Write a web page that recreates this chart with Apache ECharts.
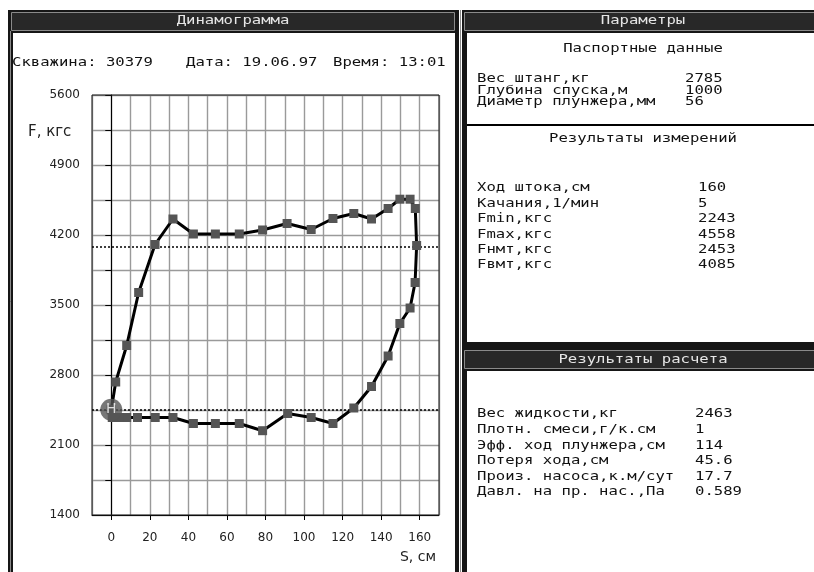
<!DOCTYPE html>
<html>
<head>
<meta charset="utf-8">
<script src="https://cdn.jsdelivr.net/npm/echarts@6/dist/echarts.min.js"></script>
<style>
  html, body { margin: 0; padding: 0; background: #fff; }
  #chart { width: 814px; height: 572px; }
</style>
</head>
<body>
<div id="chart"></div>
<script>
// Dynamogram loop: polished rod travel (cm) against rod load (kgf), one full cycle
const strokeCm = [0, 2.3, 8, 14.2, 22.7, 32, 42.6, 54, 66.4, 78.5, 91.2, 103.7, 115, 125.8, 135, 143.6, 149.7, 155, 157.7, 158.4,
                  157.6, 155, 149.7, 143.6, 135, 125.8, 115, 103.7, 91.5, 78.5, 66.4, 54, 42.6, 32, 22.8, 13.6, 8, 4, 0.5, 0];
const forceKgf = [2453, 2730, 3095, 3625, 4105, 4360, 4210, 4210, 4210, 4250, 4315, 4255, 4365, 4415, 4360, 4465, 4558, 4558, 4465, 4095,
                  3725, 3470, 3315, 2990, 2685, 2470, 2315, 2375, 2415, 2243, 2315, 2315, 2315, 2375, 2375, 2375, 2375, 2375, 2375, 2453];

// Travelling / standing valve load levels
const fNmt = 2453;
const fVmt = 4085;

// Axis ranges and tick labels
const xTickLabels = [0, 20, 40, 60, 80, 100, 120, 140, 160];
const yTickLabels = [1400, 2100, 2800, 3500, 4200, 4900, 5600];

// Header
const wellNo = '30379';
const recDate = '19.06.97';
const recTime = '13:01';

// Side tables
const passportLabels = ['Вес штанг,кг', 'Глубина спуска,м', 'Диаметр плунжера,мм'];
const passportValues = ['2785', '1000', '56'];
const measureLabels = ['Ход штока,см', 'Качания,1/мин', 'Fmin,кгс', 'Fmax,кгс', 'Fнмт,кгс', 'Fвмт,кгс'];
const measureValues = ['160', '5', '2243', '4558', '2453', '4085'];
const calcLabels = ['Вес жидкости,кг', 'Плотн. смеси,г/к.см', 'Эфф. ход плунжера,см', 'Потеря хода,см', 'Произ. насоса,к.м/сут', 'Давл. на пр. нас.,Па'];
const calcValues = ['2463', '1', '114', '45.6', '17.7', '0.589'];

const MONO = '"DejaVu Sans Mono", "Liberation Mono", monospace';
const SANS = '"DejaVu Sans", Verdana, sans-serif';
// the terminal-style face is wide and short: a small mono font stretched horizontally
const TXT_FONT = '13px ' + MONO;
const TXT_STRETCH = 1.2;

// plot box
const G = { left: 92, top: 95, width: 347, height: 420 };
const xMin = -10, xMax = 170;
const ppu = G.width / (xMax - xMin);

function txt(text, x, y, opts) {
  opts = opts || {};
  return {
    type: 'text', silent: true, z: 10,
    x: x, y: y,
    scaleX: opts.stretch === undefined ? TXT_STRETCH : opts.stretch,
    style: {
      text: text, x: 0, y: 0,
      font: opts.font || TXT_FONT,
      fill: opts.fill || '#111',
      textAlign: opts.align || 'left',
      textVerticalAlign: 'middle'
    }
  };
}
function rect(x, y, w, h, fill, stroke) {
  const r = { type: 'rect', silent: true, z: 0, shape: { x: x, y: y, width: w, height: h }, style: { fill: fill } };
  if (stroke) { r.style.stroke = stroke; r.style.lineWidth = 1; }
  return r;
}

const graphics = [];
// left panel frame
graphics.push(rect(8, 10, 451, 562, '#161616'));
graphics.push({ type: 'line', silent: true, z: 1, shape: { x1: 10.5, y1: 31, x2: 10.5, y2: 572 }, style: { stroke: '#8a8a8a', lineWidth: 1 } });
graphics.push(rect(11.5, 12.5, 443, 18, '#282828', '#8a8a8a'));
graphics.push(rect(13, 33, 442, 539, '#ffffff'));
// right upper panel
graphics.push({ type: 'line', silent: true, z: 1, shape: { x1: 460.5, y1: 10, x2: 460.5, y2: 572 }, style: { stroke: '#8a8a8a', lineWidth: 1 } });
graphics.push(rect(462, 10, 352, 335, '#161616'));
graphics.push(rect(464.5, 12.5, 352, 18, '#282828', '#8a8a8a'));
graphics.push(rect(467, 33, 347, 309, '#ffffff'));
graphics.push(rect(467, 124, 347, 2, '#000000'));
// right lower panel
graphics.push(rect(462, 345, 352, 227, '#161616'));
graphics.push(rect(464.5, 350.5, 352, 18, '#282828', '#8a8a8a'));
graphics.push(rect(467, 371, 347, 201, '#ffffff'));

// titles
graphics.push(txt('Динамограмма', 233, 21, { align: 'center', fill: '#e6e6e6' }));
graphics.push(txt('Параметры', 643, 21, { align: 'center', fill: '#e6e6e6' }));
graphics.push(txt('Результаты расчета', 643, 360, { align: 'center', fill: '#e6e6e6' }));

// header line
graphics.push(txt('Скважина: ' + wellNo, 12, 63));
graphics.push(txt('Дата: ' + recDate, 186, 63));
graphics.push(txt('Время: ' + recTime, 333, 63));

// parameter tables
graphics.push(txt('Паспортные данные', 643, 49, { align: 'center' }));
passportLabels.forEach(function (l, i) {
  graphics.push(txt(l, 477, 79 + i * 11.5));
  graphics.push(txt(passportValues[i], 685, 79 + i * 11.5));
});
graphics.push(txt('Результаты измерений', 643, 139, { align: 'center' }));
measureLabels.forEach(function (l, i) {
  graphics.push(txt(l, 477, 188 + i * 15.4));
  graphics.push(txt(measureValues[i], 698, 188 + i * 15.4));
});
calcLabels.forEach(function (l, i) {
  graphics.push(txt(l, 477, 414 + i * 15.6));
  graphics.push(txt(calcValues[i], 695, 414 + i * 15.6));
});

// axis names
graphics.push(txt('F, кгс', 28, 132, { font: '15px ' + SANS, fill: '#222', stretch: 1 }));
graphics.push(txt('S, см', 436, 557, { font: '14px ' + SANS, fill: '#222', align: 'right', stretch: 1 }));

// vertical grid colours: the S = 0 line is drawn darker
const vGridColors = [];
for (let v = xMin; v <= xMax; v += 10) vGridColors.push(v === 0 ? '#5a5a5a' : '#9a9a9a');

const loopData = strokeCm.map(function (s, i) { return [s, forceKgf[i]]; });

const chart = echarts.init(document.getElementById('chart'), null, { renderer: 'canvas' });
chart.setOption({
  animation: false,
  backgroundColor: '#ffffff',
  graphic: graphics,
  grid: [
    { left: G.left, top: G.top, width: G.width, height: G.height, show: true, borderColor: '#1a1a1a', borderWidth: 1, backgroundColor: 'transparent', z: 5 },
    { left: G.left + (0 - xMin) * ppu, top: G.top, width: (xTickLabels[xTickLabels.length - 1] - xTickLabels[0]) * ppu, height: G.height, show: false }
  ],
  xAxis: [
    {
      type: 'value', gridIndex: 0, min: xMin, max: xMax, interval: 10,
      axisLine: { show: true, lineStyle: { color: '#000', width: 1 } },
      axisTick: { show: false }, axisLabel: { show: false },
      splitLine: { show: true, lineStyle: { color: vGridColors, width: 1.4 } }
    },
    {
      type: 'value', gridIndex: 1, min: xTickLabels[0], max: xTickLabels[xTickLabels.length - 1], interval: 20,
      axisLine: { show: false },
      axisTick: { show: true, inside: false, length: 5, lineStyle: { color: '#000', width: 1 } },
      axisLabel: { show: true, margin: 17, color: '#222', fontFamily: SANS, fontSize: 12 },
      splitLine: { show: false }
    }
  ],
  yAxis: [
    {
      type: 'value', gridIndex: 0, min: yTickLabels[0], max: yTickLabels[yTickLabels.length - 1], interval: 350,
      axisLine: { show: true, lineStyle: { color: '#000', width: 1 } },
      axisTick: { show: true, inside: false, length: 6, lineStyle: { color: '#000', width: 1 } },
      axisLabel: {
        show: true, margin: 12, color: '#222', fontFamily: SANS, fontSize: 12,
        formatter: function (v) { return yTickLabels.indexOf(v) >= 0 ? String(v) : ''; }
      },
      splitLine: { show: true, lineStyle: { color: '#9a9a9a', width: 1.4 } }
    },
    { type: 'value', gridIndex: 1, min: 0, max: 1, show: false }
  ],
  series: [
    {
      type: 'line', xAxisIndex: 0, yAxisIndex: 0, data: loopData, z: 6,
      symbol: 'rect', symbolSize: 9, showAllSymbol: true,
      itemStyle: { color: '#555555' },
      lineStyle: { color: '#000000', width: 3 },
      markLine: {
        silent: true, symbol: 'none', label: { show: false },
        lineStyle: { color: '#000', type: [2, 2], width: 1.5 },
        data: [{ yAxis: fNmt }, { yAxis: fVmt }]
      }
    },
    {
      type: 'scatter', xAxisIndex: 0, yAxisIndex: 0, data: [[0, fNmt]], z: 7,
      symbol: 'circle', symbolSize: 22,
      itemStyle: { color: '#555555' },
      label: { show: true, position: 'inside', formatter: 'Н', color: '#ffffff', fontFamily: SANS, fontSize: 14 }
    }
  ]
});
</script>
</body>
</html>
